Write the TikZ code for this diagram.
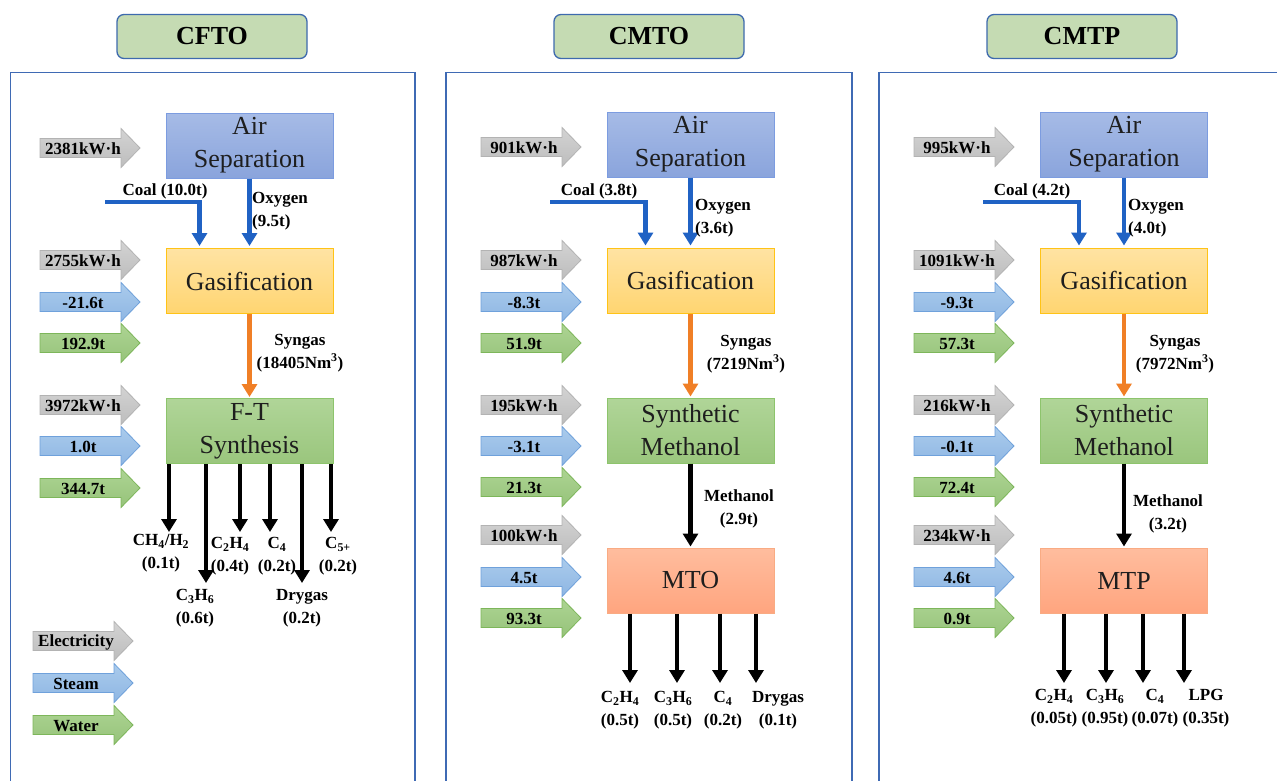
\documentclass[tikz,border=0pt]{standalone}
\usepackage{fontspec}
\setmainfont{Liberation Serif}
\usetikzlibrary{arrows.meta}
\definecolor{panelblue}{HTML}{3F6AB4}
\definecolor{titlefill}{HTML}{C5DBB3}
\definecolor{titleedge}{HTML}{3E6AAE}
\definecolor{boxtext}{HTML}{1E1E1E}
\definecolor{airtop}{HTML}{A6BBE6}
\definecolor{airbot}{HTML}{8AA4DC}
\definecolor{airedge}{HTML}{7C9CE0}
\definecolor{gastop}{HTML}{FFE3A3}
\definecolor{gasbot}{HTML}{FFD571}
\definecolor{gasedge}{HTML}{FFC316}
\definecolor{syntop}{HTML}{B0D598}
\definecolor{synbot}{HTML}{9AC67D}
\definecolor{synedge}{HTML}{8DC46C}
\definecolor{mtotop}{HTML}{FFBD9E}
\definecolor{mtobot}{HTML}{FFA57F}
\definecolor{mtoedge}{HTML}{F9AB83}
\definecolor{feedblue}{HTML}{2062C4}
\definecolor{syngasorange}{HTML}{F07F26}
\definecolor{grtop}{HTML}{D3D3D3}
\definecolor{grbot}{HTML}{BDBDBD}
\definecolor{gredge}{HTML}{B3B3B3}
\definecolor{bltop}{HTML}{AACBEC}
\definecolor{blbot}{HTML}{8EB6E3}
\definecolor{bledge}{HTML}{6FA1DB}
\definecolor{gntop}{HTML}{ADD493}
\definecolor{gnbot}{HTML}{96C37A}
\definecolor{gnedge}{HTML}{7DB65A}
\tikzset{
  titlebox/.style={draw=titleedge, line width=1.3pt, fill=titlefill, rounded corners=7pt,
    minimum width=190pt, minimum height=44pt, inner sep=0pt,
    font=\fontsize{26}{30}\selectfont\bfseries},
  panel/.style={draw=panelblue, line width=1.4pt},
  procbox/.style={minimum width=167pt, minimum height=65pt, inner sep=0pt, align=center,
    font=\fontsize{26}{33}\selectfont, text=boxtext, line width=1pt},
  airbox/.style={procbox, draw=airedge, top color=airtop, bottom color=airbot},
  gasbox/.style={procbox, draw=gasedge, top color=gastop, bottom color=gasbot},
  synbox/.style={procbox, draw=synedge, top color=syntop, bottom color=synbot},
  mtobox/.style={procbox, draw=mtoedge, top color=mtotop, bottom color=mtobot},
  lbl/.style={font=\fontsize{17}{22.5}\selectfont\bfseries, inner sep=0pt, align=center},
  lbll/.style={font=\fontsize{17}{22.5}\selectfont\bfseries, inner sep=0pt, align=left, anchor=west},
  tipstyle/.style={-{Triangle[width=15pt,length=13pt]}},
  feed/.style={draw=feedblue, line width=4.2pt, tipstyle},
  syn/.style={draw=syngasorange, line width=4.2pt, tipstyle},
  prod/.style={draw=black, line width=4.2pt, tipstyle},
  grayarr/.style={draw=gredge, line width=0.8pt, top color=grtop, bottom color=grbot},
  bluearr/.style={draw=bledge, line width=0.8pt, top color=bltop, bottom color=blbot},
  greenarr/.style={draw=gnedge, line width=0.8pt, top color=gntop, bottom color=gnbot},
}
\newcommand{\flowarrow}[5]{%
  \path[#4] (#2,#3) ++(0,-9.5) -- ++(81,0) -- ++(0,-10) -- ++(19,19.5) -- ++(-19,19.5)
    -- ++(0,-10) -- ++(-81,0) -- cycle;
  \node[lbl] (#1) at (#2+43,#3+1) {#5};}
\begin{document}
\begin{tikzpicture}[x=1pt,y=-1pt]
\clip (0,0) rectangle (1277,780);
\fill[white] (0,0) rectangle (1277,780);

% ---------- titles and panels ----------
\node[titlebox] (t1) at (212,36.5) {CFTO};
\node[titlebox] (t2) at (649,36.5) {CMTO};
\node[titlebox] (t3) at (1082,36.5) {CMTP};
\draw[panel] (10.5,72.5) rectangle (415,800);
\draw[panel] (446,72.5) rectangle (852,800);
\draw[panel] (879,72.5) rectangle (1300,800);

% =================== CFTO ===================
\node[airbox] (a1) at (249.5,145.5) {Air\\Separation};
\node[gasbox] (g1) at (249.5,281) {Gasification};
\node[synbox] (f1) at (249.5,431) {F-T\\Synthesis};

\flowarrow{e11}{40}{148}{grayarr}{2381kW·h}
\flowarrow{e12}{40}{260}{grayarr}{2755kW·h}
\flowarrow{s12}{40}{302}{bluearr}{-21.6t}
\flowarrow{w12}{40}{343}{greenarr}{192.9t}
\flowarrow{e13}{40}{405}{grayarr}{3972kW·h}
\flowarrow{s13}{40}{446}{bluearr}{1.0t}
\flowarrow{w13}{40}{488}{greenarr}{344.7t}
\flowarrow{legE}{33}{641}{grayarr}{Electricity}
\flowarrow{legS}{33}{683}{bluearr}{Steam}
\flowarrow{legW}{33}{725}{greenarr}{Water}

\coordinate (c1) at (105,202);
\draw[feed] (c1) -| ([xshift=34pt,yshift=2pt]g1.north west);
\node[lbl] (cl1) at (165,191) {Coal (10.0t)};
\draw[feed] (a1.south) -- ([yshift=2pt]g1.north);
\node[lbll] (ox1) at (252,211) {Oxygen\\(9.5t)};
\draw[syn] (g1.south) -- ([yshift=1pt]f1.north);
\node[lbl] (sg1) at (300,353) {Syngas\\(18405Nm\textsuperscript{3})};

\coordinate (p11) at (169,532);
\coordinate (p12) at (206,583);
\coordinate (p13) at (240,532);
\coordinate (p14) at (270,532);
\coordinate (p15) at (302,583);
\coordinate (p16) at (331,532);
\foreach \p in {p11,p12,p13,p14,p15,p16} \draw[prod] (\p |- f1.south) -- (\p);
\node[lbl] (o11) at (161,553) {CH\textsubscript{4}/H\textsubscript{2}\\(0.1t)};
\node[lbl] (o12) at (195,608) {C\textsubscript{3}H\textsubscript{6}\\(0.6t)};
\node[lbl] (o13) at (230,556) {C\textsubscript{2}H\textsubscript{4}\\(0.4t)};
\node[lbl] (o14) at (277,556) {C\textsubscript{4}\\(0.2t)};
\node[lbl] (o15) at (302,608) {Drygas\\(0.2t)};
\node[lbl] (o16) at (338,556) {C\textsubscript{5+}\\(0.2t)};

% =================== CMTO ===================
\node[airbox] (a2) at (690.5,144.5) {Air\\Separation};
\node[gasbox] (g2) at (690.5,280.5) {Gasification};
\node[synbox] (m2) at (690.5,430.5) {Synthetic\\Methanol};
\node[mtobox] (x2) at (690.5,580.5) {MTO};

\flowarrow{e21}{481}{147}{grayarr}{901kW·h}
\flowarrow{e22}{481}{260}{grayarr}{987kW·h}
\flowarrow{s22}{481}{302}{bluearr}{-8.3t}
\flowarrow{w22}{481}{343}{greenarr}{51.9t}
\flowarrow{e23}{481}{405}{grayarr}{195kW·h}
\flowarrow{s23}{481}{446}{bluearr}{-3.1t}
\flowarrow{w23}{481}{487}{greenarr}{21.3t}
\flowarrow{e24}{481}{535}{grayarr}{100kW·h}
\flowarrow{s24}{481}{577}{bluearr}{4.5t}
\flowarrow{w24}{481}{618}{greenarr}{93.3t}

\coordinate (c2) at (550,202);
\draw[feed] (c2) -| ([xshift=39pt,yshift=2pt]g2.north west);
\node[lbl] (cl2) at (599,191) {Coal (3.8t)};
\draw[feed] (a2.south) -- ([yshift=2pt]g2.north);
\node[lbll] (ox2) at (695,218) {Oxygen\\(3.6t)};
\draw[syn] (g2.south) -- ([yshift=1pt]m2.north);
\node[lbl] (sg2) at (746,354) {Syngas\\(7219Nm\textsuperscript{3})};
\draw[prod] (m2.south) -- ([yshift=1pt]x2.north);
\node[lbl] (me2) at (739,509) {Methanol\\(2.9t)};

\coordinate (p21) at (630,683);
\coordinate (p22) at (677,683);
\coordinate (p23) at (720,683);
\coordinate (p24) at (756,683);
\foreach \p in {p21,p22,p23,p24} \draw[prod] (\p |- x2.south) -- (\p);
\node[lbl] (o21) at (620,710) {C\textsubscript{2}H\textsubscript{4}\\(0.5t)};
\node[lbl] (o22) at (673,710) {C\textsubscript{3}H\textsubscript{6}\\(0.5t)};
\node[lbl] (o23) at (723,710) {C\textsubscript{4}\\(0.2t)};
\node[lbl] (o24) at (778,710) {Drygas\\(0.1t)};

% =================== CMTP ===================
\node[airbox] (a3) at (1124,144.5) {Air\\Separation};
\node[gasbox] (g3) at (1124,280.5) {Gasification};
\node[synbox] (m3) at (1124,430.5) {Synthetic\\Methanol};
\node[mtobox] (x3) at (1124,580.5) {MTP};

\flowarrow{e31}{914}{147}{grayarr}{995kW·h}
\flowarrow{e32}{914}{260}{grayarr}{1091kW·h}
\flowarrow{s32}{914}{302}{bluearr}{-9.3t}
\flowarrow{w32}{914}{343}{greenarr}{57.3t}
\flowarrow{e33}{914}{405}{grayarr}{216kW·h}
\flowarrow{s33}{914}{446}{bluearr}{-0.1t}
\flowarrow{w33}{914}{487}{greenarr}{72.4t}
\flowarrow{e34}{914}{535}{grayarr}{234kW·h}
\flowarrow{s34}{914}{577}{bluearr}{4.6t}
\flowarrow{w34}{914}{618}{greenarr}{0.9t}

\coordinate (c3) at (983,202);
\draw[feed] (c3) -| ([xshift=39pt,yshift=2pt]g3.north west);
\node[lbl] (cl3) at (1032,191) {Coal (4.2t)};
\draw[feed] (a3.south) -- ([yshift=2pt]g3.north);
\node[lbll] (ox3) at (1128,218) {Oxygen\\(4.0t)};
\draw[syn] (g3.south) -- ([yshift=1pt]m3.north);
\node[lbl] (sg3) at (1175,354) {Syngas\\(7972Nm\textsuperscript{3})};
\draw[prod] (m3.south) -- ([yshift=1pt]x3.north);
\node[lbl] (me3) at (1168,514) {Methanol\\(3.2t)};

\coordinate (p31) at (1064,683);
\coordinate (p32) at (1106,683);
\coordinate (p33) at (1143,683);
\coordinate (p34) at (1184,683);
\foreach \p in {p31,p32,p33,p34} \draw[prod] (\p |- x3.south) -- (\p);
\node[lbl] (o31) at (1054,708) {C\textsubscript{2}H\textsubscript{4}\\(0.05t)};
\node[lbl] (o32) at (1105,708) {C\textsubscript{3}H\textsubscript{6}\\(0.95t)};
\node[lbl] (o33) at (1155,708) {C\textsubscript{4}\\(0.07t)};
\node[lbl] (o34) at (1206,708) {LPG\\(0.35t)};
\end{tikzpicture}
\end{document}
